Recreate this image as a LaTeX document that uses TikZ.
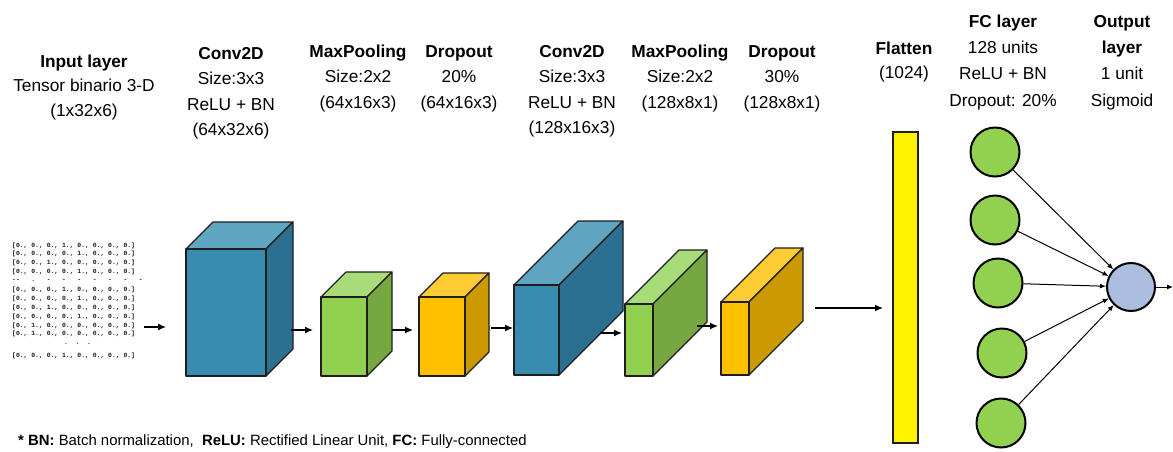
\documentclass[tikz,border=0pt]{standalone}
\usepackage{fontspec}
\setmainfont{Liberation Sans}
\newfontfamily\matfont{Liberation Mono}
\usetikzlibrary{arrows.meta}

\definecolor{convF}{HTML}{388CAF}
\definecolor{convT}{HTML}{60A6C2}
\definecolor{convS}{HTML}{2B7090}
\definecolor{poolF}{HTML}{92D050}
\definecolor{poolT}{HTML}{A8DC78}
\definecolor{poolS}{HTML}{76A842}
\definecolor{dropF}{HTML}{FFC000}
\definecolor{dropT}{HTML}{FFCC33}
\definecolor{dropS}{HTML}{CC9A00}
\definecolor{edgec}{HTML}{1E1E1E}
\definecolor{outF}{HTML}{ABBEE0}
\definecolor{matc}{HTML}{1A1A1A}

% cuboid: name, x1, y1, x2, y2 (front face), depth, colour prefix
\newcommand{\cuboid}[7]{%
  \filldraw[face, fill=#7T] (#2,#3) -- (#2+#6,#3-#6) -- (#4+#6,#3-#6) -- (#4,#3) -- cycle;
  \filldraw[face, fill=#7S] (#4,#3) -- (#4+#6,#3-#6) -- (#4+#6,#5-#6) -- (#4,#5) -- cycle;
  \filldraw[face, fill=#7F] (#2,#3) rectangle (#4,#5);
}

\begin{document}
\begin{tikzpicture}[x=1pt, y=-1pt,
  face/.style={draw=edgec, line width=1.1pt, line join=round},
  hdr/.style={align=center, anchor=base, inner sep=0pt,
    font=\fontsize{17.3}{25.5}\selectfont},
  mat/.style={anchor=west, inner sep=0pt, text=matc,
    font=\matfont\bfseries\fontsize{6.4}{7}\selectfont},
  flow/.style={line width=1.3pt, -{Latex[length=8pt,width=7pt]}},
  fan/.style={line width=1pt, -{Latex[length=6pt,width=5pt]}},
  neuron/.style={circle, draw=black, line width=2pt, minimum size=49pt,
    inner sep=0pt, fill=poolF},
]
\useasboundingbox (0,0) rectangle (1173,451);

% ---- headings (anchored at the baseline of their last line) ----
\node[hdr, font=\fontsize{17.3}{24.5}\selectfont] (hin) at (84,116)
  {\textbf{Input layer}\\Tensor binario 3-D\\(1x32x6)};
\node[hdr] (hc1) at (231,135.5) {\textbf{Conv2D}\\Size:3x3\\ReLU + BN\\(64x32x6)};
\node[hdr] (hp1) at (358,108) {\textbf{MaxPooling}\\Size:2x2\\(64x16x3)};
\node[hdr] (hd1) at (459,108) {\textbf{Dropout}\\20\%\\(64x16x3)};
\node[hdr] (hc2) at (572,133.5) {\textbf{Conv2D}\\Size:3x3\\ReLU + BN\\(128x16x3)};
\node[hdr] (hp2) at (680,108) {\textbf{MaxPooling}\\Size:2x2\\(128x8x1)};
\node[hdr] (hd2) at (782,108) {\textbf{Dropout}\\30\%\\(128x8x1)};
\node[hdr, font=\fontsize{17.3}{24}\selectfont] (hfl) at (904,78) {\textbf{Flatten}\\(1024)};
\node[hdr, font=\fontsize{17.3}{26.3}\selectfont] (hfc) at (1003,106)
  {\textbf{FC layer}\\128 units\\ReLU + BN\\Dropout: 20\%};
\node[hdr, font=\fontsize{17.3}{26.3}\selectfont] (hout) at (1122,106)
  {\textbf{Output}\\\textbf{layer}\\1 unit\\Sigmoid};

% ---- input tensor ----
\node[mat] (r1)  at (12,245.7) {[0., 0., 0., 1., 0., 0., 0., 0.]};
\node[mat] (r2)  at (12,254.3) {[0., 0., 0., 0., 1., 0., 0., 0.]};
\node[mat] (r3)  at (12,263.3) {[0., 0., 1., 0., 0., 0., 0., 0.]};
\node[mat] (r4)  at (12,272.3) {[0., 0., 0., 0., 1., 0., 0., 0.]};
\node[mat] (r5)  at (12,280.3) {--\ \ \ .\ \ \ -\ \ \ -\ \ \ -\ \ \ -\ \ \ -\ \ \ -\ \ \ -};
\node[mat] (r6)  at (12,290.0) {[0., 0., 0., 1., 0., 0., 0., 0.]};
\node[mat] (r7)  at (12,299.0) {[0., 0., 0., 0., 1., 0., 0., 0.]};
\node[mat] (r8)  at (12,307.7) {[0., 0., 1., 0., 0., 0., 0., 0.]};
\node[mat] (r9)  at (12,316.7) {[0., 0., 0., 0., 1., 0., 0., 0.]};
\node[mat] (r10) at (12,325.7) {[0., 1., 0., 0., 0., 0., 0., 0.]};
\node[mat] (r11) at (12,334.3) {[0., 1., 0., 0., 0., 0., 0., 0.]};
\node[mat] (r12) at (64,344.3) {.\ \ .\ \ .};
\node[mat] (r13) at (12,356.0) {[0., 0., 0., 1., 0., 0., 0., 0.]};

% ---- feature-map blocks ----
\cuboid{c1}{186}{249}{266}{376}{27}{conv}
\cuboid{p1}{321}{297}{367}{376}{25}{pool}
\cuboid{d1}{419}{297}{465}{376}{24}{drop}
\cuboid{c2}{514}{285}{559}{375}{64}{conv}
\cuboid{p2}{625}{304}{653}{376}{54}{pool}
\cuboid{d2}{721}{302}{749}{375}{54}{drop}

% connector end points between blocks
\coordinate (inS) at (144,327);  \coordinate (c1E) at (166,327);
\coordinate (c1S) at (291,330);  \coordinate (p1E) at (313,330);
\coordinate (p1S) at (392,330);  \coordinate (d1E) at (413,330);
\coordinate (d1S) at (491,328);  \coordinate (c2E) at (513,328);
\coordinate (c2S) at (600,333);  \coordinate (p2E) at (622,333);
\coordinate (p2S) at (697,326);  \coordinate (d2E) at (718,326);
\coordinate (d2S) at (815,308);  \coordinate (flE) at (883,308);

\draw[flow] (inS) -- (c1E);
\draw[flow] (c1S) -- (p1E);
\draw[flow] (p1S) -- (d1E);
\draw[flow] (d1S) -- (c2E);
\draw[flow] (c2S) -- (p2E);
\draw[flow] (p2S) -- (d2E);
\draw[flow] (d2S) -- (flE);

% ---- flatten vector ----
\node[draw=edgec, line width=1.2pt, fill=yellow, minimum width=25pt,
  minimum height=311pt, inner sep=0pt] (flat) at (905.5,287.5) {};

% ---- dense layer and output ----
\node[neuron] (fc1) at (995,152) {};
\node[neuron] (fc2) at (995,220) {};
\node[neuron] (fc3) at (998,283) {};
\node[neuron] (fc4) at (1002,353) {};
\node[neuron] (fc5) at (1001,423) {};
\node[neuron, fill=outF, minimum size=48pt] (out) at (1131,287) {};
\coordinate (res) at (1173,287);

\foreach \n in {fc1,fc2,fc3,fc4,fc5}
  \draw[fan] (\n) -- (out);
\draw[fan] (out) -- (res);

% ---- footnote ----
\node[anchor=base west, inner sep=0pt, font=\fontsize{14.9}{17}\selectfont] (note) at (18,445)
  {\textbf{* BN:} Batch normalization,\ \ \textbf{ReLU:} Rectified Linear Unit, \textbf{FC:} Fully-connected};
\end{tikzpicture}
\end{document}
